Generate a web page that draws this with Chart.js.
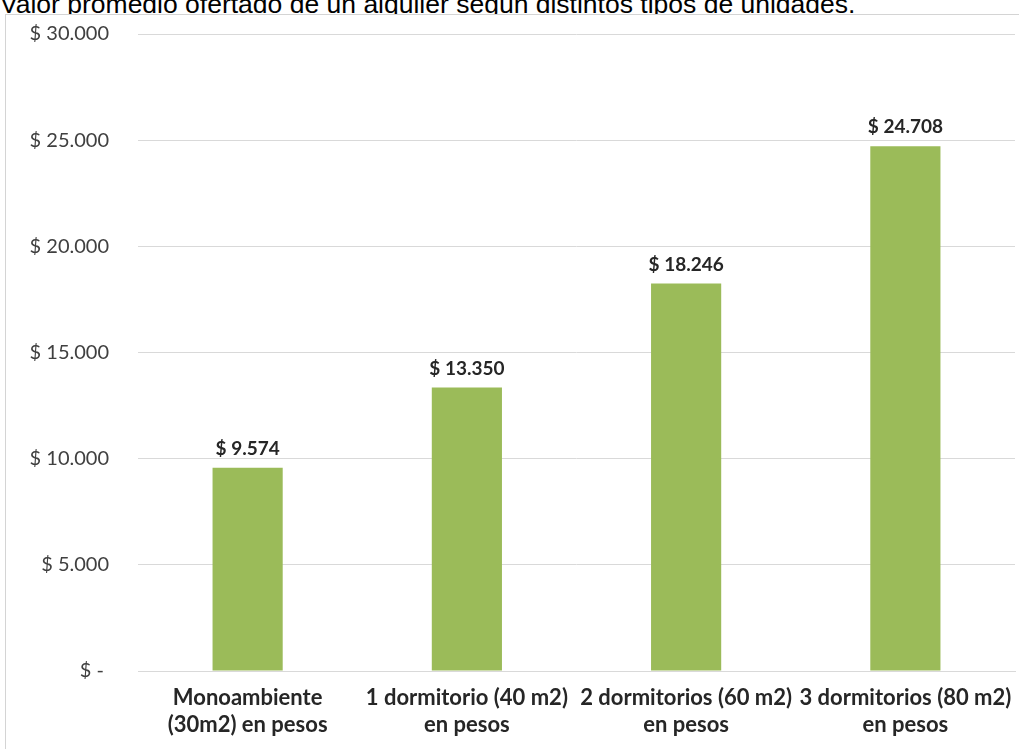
<!DOCTYPE html>
<html>
<head>
<meta charset="utf-8">
<script src="https://cdn.jsdelivr.net/npm/chart.js@4.4.1/dist/chart.umd.min.js"></script>
<style>
  html, body { margin: 0; padding: 0; background: #fff; overflow: hidden; width: 1019px; height: 749px; }
  #titulo {
    position: absolute; left: 0; top: -9px; white-space: nowrap;
    font-family: "Liberation Sans", Arial, sans-serif; font-size: 26.5px; line-height: 26px; color: #000;
  }
  #marco {
    position: absolute; left: 5px; top: 14px; width: 1014px; height: 740px;
    border: 1px solid #d4d4d4; background: #fff;
  }
  canvas { display: block; }
</style>
</head>
<body>
<div id="titulo">Valor promedio ofertado de un alquiler según distintos tipos de unidades.</div>
<div id="marco"><canvas id="grafico" width="1014" height="734"></canvas></div>
<script>
const categorias = [
  ['Monoambiente', '(30m2) en pesos'],
  ['1 dormitorio (40 m2)', 'en pesos'],
  ['2 dormitorios (60 m2)', 'en pesos'],
  ['3 dormitorios (80 m2)', 'en pesos'],
];
const valores = [9574, 13350, 18246, 24708];
const ticksEje = [0, 5000, 10000, 15000, 20000, 25000, 30000];

function formatoPesos(v) {
  if (v === 0) return '$ - ';
  return '$ ' + v.toString().replace(/\B(?=(\d{3})+(?!\d))/g, '.');
}

// etiquetas de datos encima de cada barra
const etiquetasBarras = {
  id: 'etiquetasBarras',
  afterDatasetsDraw(chart) {
    const ctx = chart.ctx;
    const meta = chart.getDatasetMeta(0);
    ctx.save();
    ctx.font = 'bold 19px Lato, sans-serif';
    ctx.fillStyle = '#262626';
    ctx.textAlign = 'center';
    ctx.textBaseline = 'alphabetic';
    meta.data.forEach((barra, i) => {
      ctx.fillText(formatoPesos(valores[i]), barra.x, barra.y - 13);
    });
    ctx.restore();
  },
};

new Chart(document.getElementById('grafico'), {
  type: 'bar',
  data: {
    labels: categorias,
    datasets: [
      {
        data: valores,
        backgroundColor: '#9bbb59',
        borderWidth: 0,
        barPercentage: 0.32,
        categoryPercentage: 1,
      },
    ],
  },
  options: {
    responsive: false,
    animation: false,
    devicePixelRatio: 1,
    layout: { padding: { top: 19, right: 5, left: 0, bottom: 0 } },
    plugins: {
      legend: { display: false },
      tooltip: { enabled: false },
    },
    scales: {
      x: {
        grid: { display: false },
        border: { display: true, color: '#d9d9d9' },
        ticks: {
          autoSkip: false,
          maxRotation: 0,
          padding: 5,
          color: '#262626',
          font: { family: 'Lato, sans-serif', size: 22, weight: 'bold', lineHeight: 1.23 },
        },
        afterFit(axis) { axis.height = 78; },
      },
      y: {
        min: 0,
        max: 30000,
        afterBuildTicks(axis) { axis.ticks = ticksEje.map((v) => ({ value: v })); },
        // marcas invisibles para separar las etiquetas del area del grafico
        grid: { color: '#d9d9d9', drawTicks: true, tickLength: 29, tickColor: 'rgba(0,0,0,0)' },
        border: { display: false },
        ticks: {
          padding: 0,
          color: '#404040',
          font: { family: 'Lato, sans-serif', size: 20 },
          callback: (v) => formatoPesos(v),
        },
        afterFit(axis) { axis.width = 132; },
      },
    },
  },
  plugins: [etiquetasBarras],
});
</script>
</body>
</html>
